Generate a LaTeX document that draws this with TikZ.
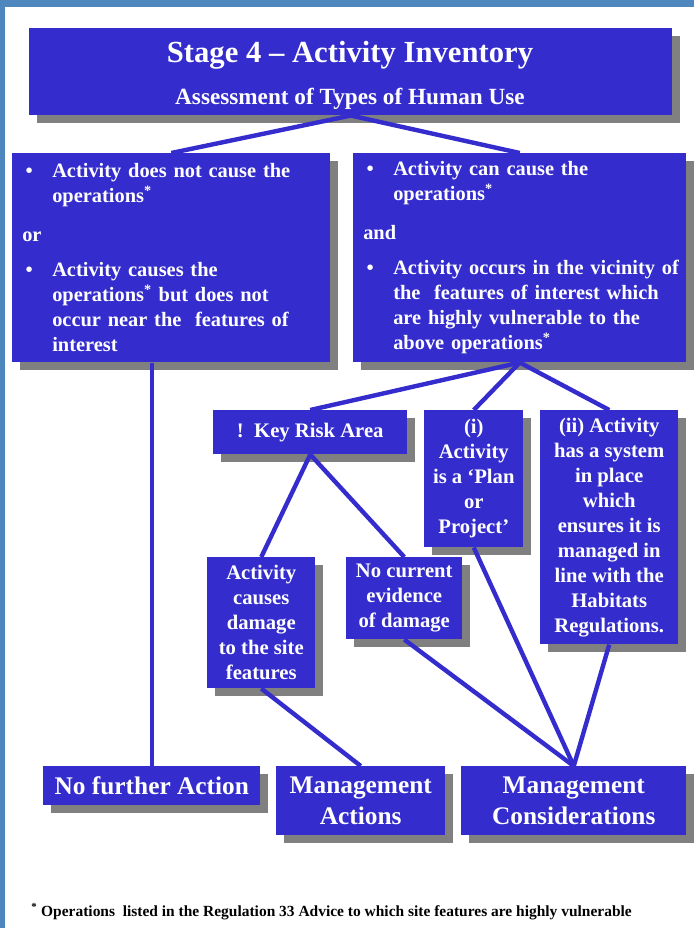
\documentclass[tikz,border=0pt]{standalone}
\usepackage{fontspec}
\setmainfont{Liberation Serif}
\usetikzlibrary{shadows}
\definecolor{boxblue}{RGB}{52,44,204}
\definecolor{bandblue}{RGB}{77,135,190}
\definecolor{shadowgray}{RGB}{128,128,128}
\newcommand{\bulletline}[1]{\mbox{\makebox[22.5pt][l]{\hspace{2.5pt}•}#1}}
\newcommand{\contline}[1]{\mbox{\hspace*{22.5pt}#1}}
\begin{document}
\begin{tikzpicture}[x=0.75pt,y=-0.75pt,
  box/.style={fill=boxblue, draw=none, text=white, inner sep=0pt, anchor=north west,
    drop shadow={shadow xshift=6pt, shadow yshift=-6pt, fill=shadowgray, opacity=1}},
  smalltxt/.style={font=\bfseries\fontsize{15.5}{18.75}\selectfont, align=center},
  bigtxt/.style={font=\bfseries\fontsize{19}{23.25}\selectfont, align=center},
  listtxt/.style={font=\bfseries\fontsize{15.3}{18.75}\selectfont, align=left, inner xsep=7.5pt},
  conn/.style={draw=boxblue, line width=3.3pt}]
\useasboundingbox (0,0) rectangle (694,928);
\fill[white] (0,0) rectangle (694,928);
\fill[bandblue] (0,0) rectangle (694,7);
\fill[bandblue] (0,0) rectangle (5,928);

% title box
\node[box, minimum width=482.25pt, minimum height=65.25pt] (title) at (29,28) {};
\node[anchor=base, text=white, font=\bfseries\fontsize{23}{26}\selectfont] (titletext) at (350,62) {Stage 4 -- Activity Inventory};
\node[anchor=base, text=white, font=\bfseries\fontsize{17.4}{20}\selectfont] (subtitle) at (350,104) {Assessment of Types of Human Use};

% left / right boxes
\node[box, listtxt, minimum width=238.5pt, minimum height=156.75pt, text width=223.5pt] (left) at (12,153) {%
\bulletline{Activity does not cause the}\\
\contline{operations\textsuperscript{*}}\\[10.5pt]
or\\[7.5pt]
\bulletline{Activity causes the}\\
\contline{operations\textsuperscript{*} but does not}\\
\contline{occur near the\ \ features of}\\
\contline{interest}};

\node[box, listtxt, minimum width=249.75pt, minimum height=156.75pt, text width=234.75pt, inner xsep=7pt] (right) at (353,153) {%
\bulletline{Activity can cause the}\\
\contline{operations\textsuperscript{*}}\\[10.5pt]
and\\[7.5pt]
\bulletline{Activity occurs in the vicinity of}\\
\contline{the\ \ features of interest which}\\
\contline{are highly vulnerable to the}\\
\contline{above operations\textsuperscript{*}}};

% middle boxes
\node[box, smalltxt, minimum width=145.5pt, minimum height=33pt] (keyrisk) at (213,410) {!\ \ Key Risk Area};
\node[box, smalltxt, minimum width=74.25pt, minimum height=102.75pt] (plan) at (424,410) {(i)\\Activity\\is a `Plan\\or\\Project'};
\node[box, smalltxt, minimum width=103.5pt, minimum height=175.5pt] (sys) at (540,410) {(ii) Activity\\has a system\\in place\\which\\ensures it is\\managed in\\line with the\\Habitats\\Regulations.};
\node[box, smalltxt, minimum width=81pt, minimum height=98.25pt] (damage) at (207,557) {Activity\\causes\\damage\\to the site\\features};
\node[box, smalltxt, minimum width=87pt, minimum height=61.5pt] (nocur) at (346,557) {No current\\evidence\\of damage};

% bottom boxes
\node[box, bigtxt, minimum width=162.75pt, minimum height=29.25pt] (nfa) at (43,766) {No further Action};
\node[box, bigtxt, minimum width=126.75pt, minimum height=51.75pt] (ma) at (276,766) {Management\\Actions};
\node[box, bigtxt, minimum width=168.75pt, minimum height=51.75pt] (mc) at (461,766) {Management\\Considerations};

% footnote
\node[anchor=base west, inner sep=0pt, font=\bfseries\fontsize{11.6}{13}\selectfont] (fn) at (31,916) {\textsuperscript{*} Operations\ \ listed in the Regulation 33 Advice to which site features are highly vulnerable};

% connectors
\draw[conn] (title.south) -- (left.north);
\draw[conn] (title.south) -- (right.north);
\draw[conn] (left.south -| nfa.north) -- (nfa.north);
\draw[conn] (right.south) -- (keyrisk.north);
\draw[conn] (right.south) -- (plan.north);
\draw[conn] (right.south) -- (sys.north);
\draw[conn] (keyrisk.south) -- (damage.north);
\draw[conn] (keyrisk.south) -- (nocur.north);
\draw[conn] (damage.south) -- (ma.north);
\draw[conn] (plan.south) -- (mc.north);
\draw[conn] (nocur.south) -- (mc.north);
\draw[conn] (sys.south) -- (mc.north);
\end{tikzpicture}
\end{document}
